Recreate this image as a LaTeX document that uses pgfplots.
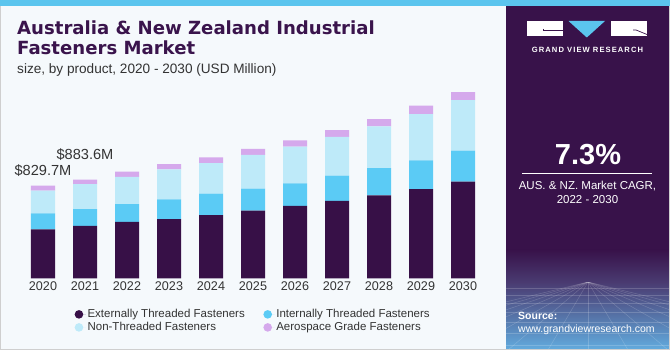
\documentclass[border=0pt]{standalone}
\usepackage{pgfplots}
\pgfplotsset{compat=1.18}
\usepackage{fontspec}
\setmainfont{Liberation Sans}
\newfontfamily\titlefont{DejaVu Sans}
\definecolor{bgc}{HTML}{F5F9FC}
\definecolor{topblue}{HTML}{5BC5EE}
\definecolor{panel}{HTML}{38124A}
\definecolor{panelmid}{HTML}{4A3C72}
\definecolor{panelbot}{HTML}{62ACDF}
\definecolor{titlec}{HTML}{3A144C}
\definecolor{txt}{HTML}{333333}
\definecolor{cA}{HTML}{371047}
\definecolor{cB}{HTML}{5BCBF5}
\definecolor{cC}{HTML}{BEEAF9}
\definecolor{cD}{HTML}{D5A9EC}
\definecolor{bord}{HTML}{CFCFCF}

\pgfplotstableread{
x A B C D
0 439 143 203 44.7
1 469 150 224 40.6
2 505 159 245 47
3 531 177 269 45
4 567 191 275 51
5 606 197 302 54
6 648 203 328 57
7 693 227 347 60
8 744 242 376 65
9 800 257 415 74
10 866 278 452 72
}\datatable

\begin{document}
\begin{tikzpicture}
\useasboundingbox (0pt,0pt) rectangle (670pt,350pt);
\fill[bgc] (0pt,0pt) rectangle (670pt,350pt);
% right panel
\fill[panel] (506pt,0pt) rectangle (670pt,344pt);
\shade[top color=panel, bottom color=panelmid] (506pt,67pt) rectangle (670pt,100pt);
\shade[top color=panelmid, bottom color=panelbot] (506pt,0pt) rectangle (670pt,67pt);
\begin{scope}
\clip (506pt,0pt) rectangle (670pt,67pt);
\begin{scope}[white, opacity=0.18, line width=0.5pt]
\foreach \yy in {62,55,47,38,28,17,5} {\draw (506pt,\yy pt) -- (670pt,\yy pt);}
\foreach \xx in {-280,-240,-200,-160,-120,-80,-40,0,40,80,120,160,200,240,280} {\draw (588pt,68pt) -- (588pt+\xx pt,0pt);}
\end{scope}
\end{scope}
% top strip and border
\fill[topblue] (0pt,344pt) rectangle (670pt,350pt);
\draw[bord, line width=1pt] (0.5pt,0.5pt) -- (0.5pt,344pt);
\draw[bord, line width=1.2pt] (0pt,0.6pt) -- (670pt,0.6pt);
\draw[bord, line width=1pt] (669.5pt,0.5pt) -- (669.5pt,344pt);
% logo
\fill[white] (527pt,329pt) rectangle (563pt,314pt);
\fill[topblue] (568.5pt,329pt) -- (605pt,329pt) -- (586.8pt,312.5pt) -- cycle;
\fill[white] (610.5pt,329pt) rectangle (647pt,314pt);
\draw[panel, line width=0.7pt] (543pt,321pt) -- (543pt,319.3pt) -- (563pt,319.3pt);
\draw[panel, line width=0.7pt] (633pt,320pt) -- (636pt,320pt) -- (647pt,315.5pt);
\node[anchor=base, inner sep=0pt, text=white, font=\fontsize{7.6}{8}\selectfont\bfseries\addfontfeature{LetterSpace=14}] at (587.5pt,297pt) {GRAND VIEW RESEARCH};
% CAGR
\node[anchor=base, inner sep=0pt, text=white, font=\fontsize{29}{30}\selectfont\bfseries] at (588pt,185pt) {7.3\%};
\draw[white, line width=0.8pt] (522pt,177pt) -- (652pt,177pt);
\node[anchor=base, inner sep=0pt, text=white, font=\fontsize{11.5}{12}\selectfont] at (587.5pt,160pt) {AUS. \& NZ. Market CAGR,};
\node[anchor=base, inner sep=0pt, text=white, font=\fontsize{11.5}{12}\selectfont] at (587.5pt,146pt) {2022 - 2030};
% source
\node[anchor=base west, inner sep=0pt, text=white, font=\fontsize{10.5}{11}\selectfont\bfseries] at (518pt,30.7pt) {Source:};
\node[anchor=base west, inner sep=0pt, text=white, font=\fontsize{10.5}{11}\selectfont] at (518pt,17.3pt) {www.grandviewresearch.com};
% titles
\node[anchor=base west, inner sep=0pt, text=titlec, font=\titlefont\fontsize{18.1}{18}\selectfont\bfseries] at (17pt,315pt) {Australia \& New Zealand Industrial};
\node[anchor=base west, inner sep=0pt, text=titlec, font=\titlefont\fontsize{18.1}{18}\selectfont\bfseries] at (17pt,295pt) {Fasteners Market};
\node[anchor=base west, inner sep=0pt, text=txt, font=\fontsize{13.6}{14}\selectfont] at (17pt,276pt) {size, by product, 2020 - 2030 (USD Million)};

\begin{axis}[
  at={(1pt,71.7pt)}, anchor=south west,
  scale only axis, width=504pt, height=200.9pt,
  xmin=-1, xmax=11, ymin=0, ymax=1800,
  ybar stacked, bar width=24pt,
  axis line style={draw=none}, major tick length=0pt,
  ytick=\empty,
  xtick={0,...,10},
  xticklabels={2020,2021,2022,2023,2024,2025,2026,2027,2028,2029,2030},
  xticklabel style={font=\fontsize{12.6}{13}\selectfont, text=txt},
  /pgf/number format/assume math mode=true,
  clip=false,
  legend columns=2,
  legend cell align=left,
  legend style={at={(0.5,-0.212)}, anchor=center, draw=none, fill=none,
    font=\fontsize{11.5}{12}\selectfont, text=txt,
    nodes={inner sep=1.6pt},
    /tikz/every even column/.append style={column sep=17pt}},
  legend image code/.code={\fill[#1, draw=none] (0pt,0pt) circle (4.3pt); \path (-4.3pt,0pt) -- (7pt,0pt);},
]
\addplot[fill=cA, draw=none] table[x=x, y=A] {\datatable};
\addplot[fill=cB, draw=none] table[x=x, y=B] {\datatable};
\addplot[fill=cC, draw=none] table[x=x, y=C] {\datatable};
\addplot[fill=cD, draw=none] table[x=x, y=D] {\datatable};
\legend{Externally Threaded Fasteners, Internally Threaded Fasteners, Non-Threaded Fasteners, Aerospace Grade Fasteners}
\node[anchor=base, text=txt, font=\fontsize{14.6}{15}\selectfont, inner sep=0pt] at (axis cs:0,829.7) [yshift=10pt] {\$829.7M};
\node[anchor=base, text=txt, font=\fontsize{14.6}{15}\selectfont, inner sep=0pt] at (axis cs:1,883.6) [yshift=20pt] {\$883.6M};
\end{axis}
\end{tikzpicture}
\end{document}
